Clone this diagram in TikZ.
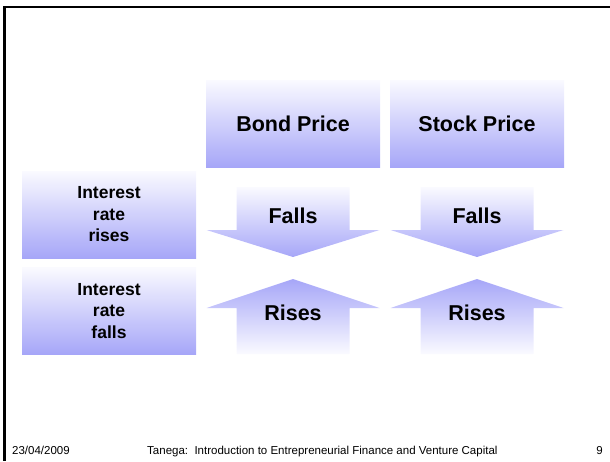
\documentclass[tikz,border=0pt]{standalone}
\usepackage{fontspec}
\setmainfont{Liberation Sans}
\definecolor{lite}{RGB}{250,250,255}
\definecolor{dark}{RGB}{166,166,248}
\tikzset{
  hbox/.style={minimum width=174pt, minimum height=87pt, inner sep=0pt,
    top color=lite, bottom color=dark, font=\fontsize{21.5}{24}\selectfont\bfseries},
  rbox/.style={minimum width=174pt, minimum height=87pt, inner sep=0pt,
    top color=lite, bottom color=dark, align=center,
    font=\fontsize{17.5}{21.5}\selectfont\bfseries},
  downarr/.style={top color=lite, bottom color=dark},
  uparr/.style={top color=dark, bottom color=lite},
  lbl/.style={inner sep=0pt, font=\fontsize{21.5}{24}\selectfont\bfseries},
  foot/.style={inner sep=0pt, font=\fontsize{11.5}{13}\selectfont},
}
\begin{document}
\begin{tikzpicture}[x=1pt,y=-1pt]
\useasboundingbox (0,0) rectangle (610,461);
% frame lines
\draw[line width=2pt] (3,7) -- (610,7);
\draw[line width=3pt] (4.5,6) -- (4.5,461);
% header boxes
\node[hbox] (bond) at (293,123.5) {Bond Price};
\node[hbox] (stock) at (477,123.5) {Stock Price};
% row boxes
\node[rbox] (rrise) at (109,214.5) {Interest\\rate\\rises};
\node[rbox] (rfall) at (109,311) {Interest\\rate\\falls};
% down arrows
\foreach \cx/\nm in {293/bf, 477/sf}{
  \shade[downarr] (\cx-56.5,187) -- (\cx+56.5,187) -- (\cx+56.5,230) -- (\cx+86.5,230)
     -- (\cx,257) -- (\cx-86.5,230) -- (\cx-56.5,230) -- cycle;
  \node[lbl] (\nm) at (\cx,216) {Falls};
}
% up arrows
\foreach \cx/\nm in {293/br, 477/sr}{
  \shade[uparr] (\cx,279) -- (\cx+86.5,308) -- (\cx+56.5,308) -- (\cx+56.5,354)
     -- (\cx-56.5,354) -- (\cx-56.5,308) -- (\cx-86.5,308) -- cycle;
  \node[lbl] (\nm) at (\cx,313) {Rises};
}
% footer
\node[foot, anchor=base west] (date) at (12,454) {23/04/2009};
\node[foot, anchor=base west] (title) at (147,454) {Tanega:\ \ Introduction to Entrepreneurial Finance and Venture Capital};
\node[foot, anchor=base east] (page) at (603,454) {9};
\end{tikzpicture}
\end{document}
